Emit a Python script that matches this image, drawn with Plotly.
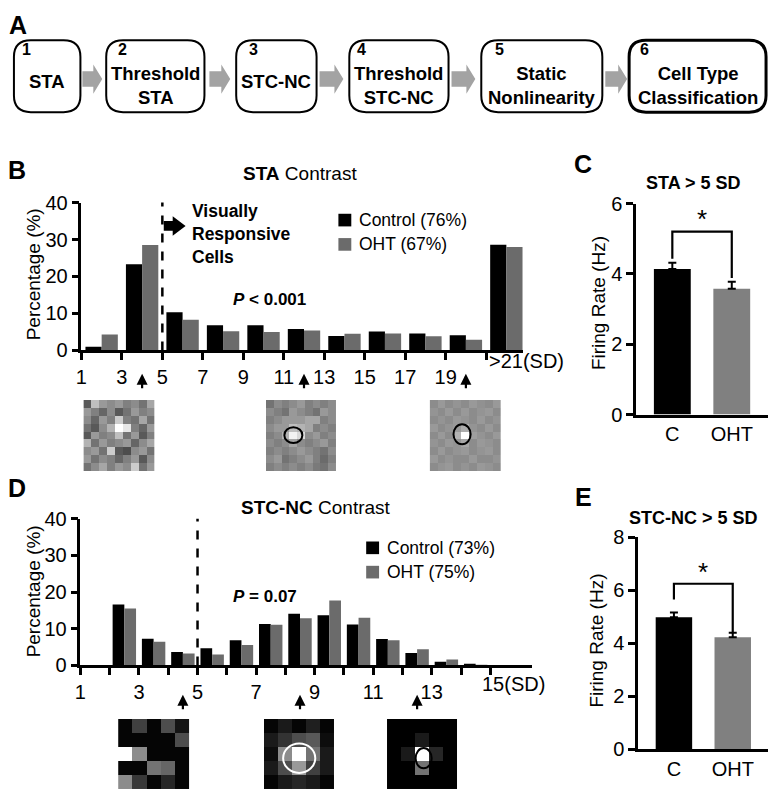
import plotly.graph_objects as go

W, H = 772, 800
def px(x): return x / W
def py(y): return 1 - y / H

FONT = "Arial, Liberation Sans, sans-serif"
CTRL = "#000000"
OHT_HIST = "#6b6b6b"
OHT_BAR = "#808080"

# ---------------- data ----------------
step_numbers = ["1", "2", "3", "4", "5", "6"]
step_labels = ["STA", "Threshold<br>STA", "STC-NC", "Threshold<br>STC-NC",
               "Static<br>Nonlinearity", "Cell Type<br>Classification"]

sta_bin_centers = [2, 4, 6, 8, 10, 12, 14, 16, 18, 20, 22]
sta_control = [1.0, 23.3, 10.3, 6.8, 6.8, 5.8, 3.9, 5.1, 4.6, 4.1, 28.6]
sta_oht = [4.3, 28.5, 8.3, 5.2, 5.0, 5.4, 4.5, 4.6, 3.8, 2.9, 28.0]
sta_tickvals = [1, 3, 5, 7, 9, 11, 13, 15, 17, 19, 21]
sta_ticktext = ["1", "3", "5", "7", "9", "11", "13", "15", "17", "19", ""]
sta_legend = ["Control (76%)", "OHT (67%)"]

stc_bin_centers = [2.5, 3.5, 4.5, 5.5, 6.5, 7.5, 8.5, 9.5, 10.5, 11.5, 12.5, 13.5, 14.5]
stc_control = [16.6, 7.3, 3.7, 4.7, 6.9, 11.3, 14.1, 13.7, 11.2, 7.2, 3.4, 1.0, 0.3]
stc_oht = [15.5, 6.5, 3.3, 3.0, 5.6, 11.1, 12.9, 17.7, 13.0, 6.9, 4.4, 1.6, 0.2]
stc_tickvals = list(range(1, 16))
stc_ticktext = ["1", "", "3", "", "5", "", "7", "", "9", "", "11", "", "13", "", ""]
stc_legend = ["Control (73%)", "OHT (75%)"]

groups = ["C", "OHT"]
sta_rate = [4.14, 3.58]
sta_rate_err = [0.18, 0.20]
stc_rate = [4.98, 4.22]
stc_rate_err = [0.18, 0.17]

sta_patch_low = [
    [0.35, 0.75, 0.60, 0.55, 0.60, 0.50, 0.55, 0.45, 0.65],
    [0.60, 0.50, 0.40, 0.55, 0.35, 0.45, 0.60, 0.50, 0.55],
    [0.55, 0.40, 0.60, 0.50, 0.80, 0.50, 0.45, 0.65, 0.45],
    [0.45, 0.35, 0.55, 0.70, 1.00, 0.90, 0.50, 0.40, 0.60],
    [0.35, 0.60, 0.50, 0.55, 0.75, 0.45, 0.60, 0.35, 0.50],
    [0.70, 0.45, 0.60, 0.50, 0.55, 0.60, 0.40, 0.55, 0.65],
    [0.55, 0.60, 0.45, 0.80, 0.35, 0.30, 0.55, 0.60, 0.45],
    [0.60, 0.45, 0.55, 0.50, 0.40, 0.50, 0.60, 0.35, 0.55],
    [0.45, 0.55, 0.65, 0.50, 0.60, 0.55, 0.80, 0.45, 0.60],
]
sta_patch_mid = [
    [0.45, 0.55, 0.50, 0.55, 0.60, 0.50, 0.55, 0.50, 0.55],
    [0.55, 0.50, 0.45, 0.60, 0.55, 0.50, 0.45, 0.60, 0.55],
    [0.50, 0.55, 0.60, 0.60, 0.60, 0.65, 0.65, 0.50, 0.55],
    [0.55, 0.60, 0.60, 0.75, 0.70, 0.65, 0.50, 0.55, 0.50],
    [0.50, 0.55, 0.70, 0.95, 0.85, 0.55, 0.60, 0.50, 0.55],
    [0.55, 0.50, 0.55, 0.65, 0.55, 0.50, 0.55, 0.60, 0.50],
    [0.50, 0.55, 0.50, 0.55, 0.60, 0.55, 0.50, 0.45, 0.55],
    [0.55, 0.60, 0.45, 0.50, 0.55, 0.60, 0.50, 0.42, 0.50],
    [0.50, 0.55, 0.50, 0.55, 0.50, 0.55, 0.48, 0.45, 0.55],
]
sta_patch_high = [
    [0.55, 0.60, 0.55, 0.58, 0.55, 0.60, 0.57, 0.55, 0.60],
    [0.58, 0.55, 0.60, 0.55, 0.60, 0.55, 0.58, 0.60, 0.55],
    [0.55, 0.58, 0.55, 0.60, 0.58, 0.55, 0.60, 0.55, 0.58],
    [0.60, 0.55, 0.58, 0.60, 0.68, 0.58, 0.55, 0.60, 0.55],
    [0.55, 0.60, 0.55, 0.70, 1.00, 0.62, 0.58, 0.55, 0.60],
    [0.58, 0.55, 0.60, 0.58, 0.65, 0.55, 0.60, 0.58, 0.55],
    [0.55, 0.60, 0.55, 0.58, 0.60, 0.55, 0.58, 0.60, 0.55],
    [0.60, 0.55, 0.58, 0.55, 0.55, 0.60, 0.55, 0.55, 0.58],
    [0.55, 0.58, 0.60, 0.55, 0.58, 0.55, 0.60, 0.58, 0.55],
]
stc_patch_low = [
    [0.02, 0.25, 0.02, 0.30, 0.08],
    [0.02, 0.02, 0.02, 0.02, 0.30],
    [1.00, 0.55, 0.02, 0.02, 0.02],
    [0.02, 0.02, 0.45, 0.40, 0.02],
    [0.55, 0.22, 0.02, 0.15, 0.02],
]
stc_patch_mid = [
    [0.02, 0.10, 0.02, 0.12, 0.02],
    [0.10, 0.20, 0.30, 0.35, 0.05],
    [0.05, 0.55, 1.00, 0.45, 0.10],
    [0.10, 0.30, 0.60, 0.25, 0.10],
    [0.02, 0.10, 0.15, 0.10, 0.02],
]
stc_patch_high = [
    [0.00, 0.00, 0.00, 0.00, 0.00],
    [0.00, 0.00, 0.10, 0.00, 0.00],
    [0.00, 0.10, 1.00, 0.15, 0.00],
    [0.00, 0.00, 0.45, 0.00, 0.00],
    [0.00, 0.00, 0.00, 0.00, 0.00],
]

fig = go.Figure()

# ---------------- B: STA histogram ----------------
fig.add_trace(go.Bar(x=sta_bin_centers, y=sta_control, name=sta_legend[0], marker_color=CTRL,
                     marker_line_width=0, xaxis="x", yaxis="y", showlegend=False))
fig.add_trace(go.Bar(x=sta_bin_centers, y=sta_oht, name=sta_legend[1], marker_color=OHT_HIST,
                     marker_line_width=0, xaxis="x", yaxis="y", showlegend=False))
# ---------------- D: STC histogram ----------------
fig.add_trace(go.Bar(x=stc_bin_centers, y=stc_control, name=stc_legend[0], marker_color=CTRL,
                     marker_line_width=0, xaxis="x3", yaxis="y3", showlegend=False))
fig.add_trace(go.Bar(x=stc_bin_centers, y=stc_oht, name=stc_legend[1], marker_color=OHT_HIST,
                     marker_line_width=0, xaxis="x3", yaxis="y3", showlegend=False))
# ---------------- C / E: firing rates ----------------
gx = list(range(len(groups)))
for vals, errs, xa, ya in [(sta_rate, sta_rate_err, "x2", "y2"), (stc_rate, stc_rate_err, "x4", "y4")]:
    fig.add_trace(go.Bar(x=gx, y=vals, width=0.62, marker_color=[CTRL, OHT_BAR], marker_line_width=0,
                         error_y=dict(type="data", array=errs, arrayminus=[0, 0], symmetric=False,
                                      color="black", thickness=2, width=4),
                         xaxis=xa, yaxis=ya, showlegend=False))

# ---------------- patches ----------------
patches = [
    (sta_patch_low, 78, 150, 400, 473),
    (sta_patch_mid, 262, 333, 400, 473),
    (sta_patch_high, 427, 499, 400, 473),
    (stc_patch_low, 113, 185, 728, 800),
    (stc_patch_mid, 260, 331, 728, 800),
    (stc_patch_high, 384, 455, 728, 800),
]
layout_axes = {}
for i, (z, x0, x1, y0, y1) in enumerate(patches):
    k = i + 5
    n = len(z)
    fig.add_trace(go.Heatmap(z=z, zmin=0, zmax=1, colorscale=[[0, "black"], [1, "white"]],
                             showscale=False, xaxis=f"x{k}", yaxis=f"y{k}", hoverinfo="skip"))
    layout_axes[f"xaxis{k}"] = dict(domain=[px(x0), px(x1)], range=[-0.5, n - 0.5], visible=False,
                                    anchor=f"y{k}", fixedrange=True)
    layout_axes[f"yaxis{k}"] = dict(domain=[py(y1), py(y0)], range=[n - 0.5, -0.5], visible=False,
                                    anchor=f"x{k}", fixedrange=True)

axis_common = dict(showline=True, linewidth=2.5, linecolor="black", ticks="outside", ticklen=7,
                   tickwidth=2.5, tickcolor="black", showgrid=False, zeroline=False,
                   tickfont=dict(size=20, color="black", family=FONT))

fig.update_layout(
    width=W, height=H, autosize=False, margin=dict(l=0, r=0, t=0, b=0),
    paper_bgcolor="white", plot_bgcolor="rgba(0,0,0,0)",
    barmode="group", bargap=0.2, bargroupgap=0,
    font=dict(family=FONT, color="black"),
    xaxis=dict(domain=[px(76), px(521)], range=[1, 22.82], tickvals=sta_tickvals, ticktext=sta_ticktext,
               anchor="y", **axis_common),
    yaxis=dict(domain=[py(349), py(197)], range=[0, 40], tickvals=[0, 10, 20, 30, 40], anchor="x",
               **axis_common),
    xaxis2=dict(domain=[px(635), px(768)], range=[-0.61, 1.61], tickvals=gx, ticktext=groups, anchor="y2",
                **{**axis_common, "ticks": ""}),
    yaxis2=dict(domain=[py(415), py(198)], range=[0, 6], tickvals=[0, 2, 4, 6], anchor="x2", **axis_common),
    xaxis3=dict(domain=[px(75), px(530)], range=[1, 16.42], tickvals=stc_tickvals, ticktext=stc_ticktext,
                anchor="y3", **axis_common),
    yaxis3=dict(domain=[py(673), py(522)], range=[0, 40], tickvals=[0, 10, 20, 30, 40], anchor="x3",
                **axis_common),
    xaxis4=dict(domain=[px(637), px(768)], range=[-0.61, 1.6], tickvals=gx, ticktext=groups, anchor="y4",
                **{**axis_common, "ticks": ""}),
    yaxis4=dict(domain=[py(759), py(541)], range=[0, 8], tickvals=[0, 2, 4, 6, 8], anchor="x4", **axis_common),
    **layout_axes,
)

shapes = []
ann = []

def P(x, y):
    return f"{px(x):.5f},{py(y):.5f}"

def rr_path(x0, y0, x1, y1, r):
    return (f"M{P(x0 + r, y0)}L{P(x1 - r, y0)}Q{P(x1, y0)} {P(x1, y0 + r)}"
            f"L{P(x1, y1 - r)}Q{P(x1, y1)} {P(x1 - r, y1)}L{P(x0 + r, y1)}"
            f"Q{P(x0, y1)} {P(x0, y1 - r)}L{P(x0, y0 + r)}Q{P(x0, y0)} {P(x0 + r, y0)}Z")

def text(x, y, s, size, bold=False, xanchor="center", angle=0, color="black", align="center"):
    ann.append(dict(x=px(x), y=py(y), xref="paper", yref="paper", text=(f"<b>{s}</b>" if bold else s),
                    showarrow=False, xanchor=xanchor, yanchor="middle", textangle=angle, align=align,
                    font=dict(size=size, color=color, family=FONT)))

# ---------------- A: pipeline ----------------
box_x = [(8, 75), (101, 200), (232, 313), (346, 446), (479, 601), (628, 766)]
box_top, box_bot = 30, 104
num_x = [21, 117, 249, 358, 497, 643]
arrows_x = [(77, 97), (205, 226), (316, 340), (449, 473), (604, 626)]
for i, (x0, x1) in enumerate(box_x):
    shapes.append(dict(type="path", xref="paper", yref="paper", path=rr_path(x0, box_top, x1, box_bot, 17),
                       line=dict(color="black", width=3 if i == 5 else 2), fillcolor="white"))
    text(num_x[i], 40, step_numbers[i], 16, bold=True)
    cx = (x0 + x1) / 2
    two = "<br>" in step_labels[i]
    text(cx, 77 if two else 72, step_labels[i], 18.5, bold=True)
cy = 70
for (a0, a1) in arrows_x:
    hx = a1 - 9
    path = (f"M{P(a0, cy - 8)}L{P(hx, cy - 8)}L{P(hx, cy - 15)}L{P(a1, cy)}"
            f"L{P(hx, cy + 15)}L{P(hx, cy + 8)}L{P(a0, cy + 8)}Z")
    shapes.append(dict(type="path", xref="paper", yref="paper", path=path, line=dict(width=0),
                       fillcolor="#a3a3a3"))

# panel labels
text(12, 14, "A", 25, bold=True)
text(11, 164, "B", 25, bold=True)
text(582, 157, "C", 25, bold=True)
text(11, 490, "D", 25, bold=True)
text(582, 500, "E", 25, bold=True)

# titles
text(296, 167, "<b>STA</b> Contrast", 19)
text(693, 177, "STA > 5 SD", 18, bold=True)
text(312, 511, "<b>STC-NC</b> Contrast", 19)
text(693, 521, "STC-NC > 5 SD", 18, bold=True)

# axis titles
text(28, 271, "Percentage (%)", 19, angle=-90)
text(28, 597, "Percentage (%)", 19, angle=-90)
text(597, 300, "Firing Rate (Hz)", 19, angle=-90)
text(595, 647, "Firing Rate (Hz)", 19, angle=-90)

# SD end labels
text(485, 360, "&gt;21(SD)", 20, xanchor="left")
text(478, 692, "15(SD)", 20, xanchor="left")

# legends
for (lx, ly, labels) in [(335, 215, sta_legend), (363, 552, stc_legend)]:
    for j, lab in enumerate(labels):
        yy = ly + 25 * j
        shapes.append(dict(type="rect", xref="paper", yref="paper", x0=px(lx), x1=px(lx + 13),
                           y0=py(yy + 6.5), y1=py(yy - 6.5), line=dict(width=0),
                           fillcolor=CTRL if j == 0 else OHT_HIST))
        text(lx + 19, yy, lab, 17.5, xanchor="left")

# P values
text(227, 297, "<b><i>P</i> &lt; 0.001</b>", 17, xanchor="left")
text(227, 602, "<b><i>P</i> = 0.07</b>", 17, xanchor="left")

# visually responsive cells
text(185, 229, "Visually<br>Responsive<br>Cells", 17.5, bold=True, xanchor="left", align="left")
shapes.append(dict(type="path", xref="paper", yref="paper",
                   path=(f"M{P(159, 216)}L{P(168, 216)}L{P(168, 211)}L{P(181, 221)}"
                         f"L{P(168, 231)}L{P(168, 226)}L{P(159, 226)}Z"),
                   line=dict(width=0), fillcolor="black"))

# dashed thresholds
shapes.append(dict(type="line", xref="x", yref="y", x0=5, x1=5, y0=0, y1=40.6,
                   line=dict(color="black", width=2.5, dash="dash")))
shapes.append(dict(type="line", xref="x3", yref="y3", x0=5, x1=5, y0=0, y1=40.6,
                   line=dict(color="black", width=2.5, dash="dash")))

# small arrows pointing at example patches
for xv in [4, 12, 20]:
    ann.append(dict(x=xv, y=py(373), xref="x", yref="paper", ax=0, ay=16, text="", showarrow=True,
                    arrowhead=2, arrowsize=1, arrowwidth=2.2, arrowcolor="black"))
for xv in [4.5, 8.5, 12.5]:
    ann.append(dict(x=xv, y=py(703), xref="x3", yref="paper", ax=0, ay=16, text="", showarrow=True,
                    arrowhead=2, arrowsize=1, arrowwidth=2.2, arrowcolor="black"))

# significance brackets
shapes.append(dict(type="path", xref="x2", yref="y2", path="M0,4.43L0,5.2L1,5.2L1,3.88",
                   line=dict(color="black", width=2.2)))
ann.append(dict(x=0.5, y=5.55, xref="x2", yref="y2", text="*", showarrow=False,
                font=dict(size=26, family=FONT, color="black"), yanchor="middle"))
shapes.append(dict(type="path", xref="x4", yref="y4", path="M0,5.65L0,6.24L1,6.24L1,4.37",
                   line=dict(color="black", width=2.2)))
ann.append(dict(x=0.5, y=6.7, xref="x4", yref="y4", text="*", showarrow=False,
                font=dict(size=26, family=FONT, color="black"), yanchor="middle"))

# receptive-field fit ellipses
ellipses = [(6, 3.0, 3.96, 1.15, 1.0, "black"), (7, 3.58, 3.84, 1.08, 1.28, "black"),
            (9, 2.0, 2.3, 1.14, 1.05, "white"), (10, 2.1, 2.3, 0.57, 0.72, "black")]
for (k, cxv, cyv, rx, ry, col) in ellipses:
    shapes.append(dict(type="circle", xref=f"x{k}", yref=f"y{k}", x0=cxv - rx, x1=cxv + rx,
                       y0=cyv - ry, y1=cyv + ry, line=dict(color=col, width=2)))

fig.update_layout(shapes=shapes, annotations=ann)
fig.write_html("out.html", config={"displayModeBar": False},
               post_script="document.body.style.margin='0';document.body.style.padding='0';"
                           "document.body.style.overflow='hidden';")
